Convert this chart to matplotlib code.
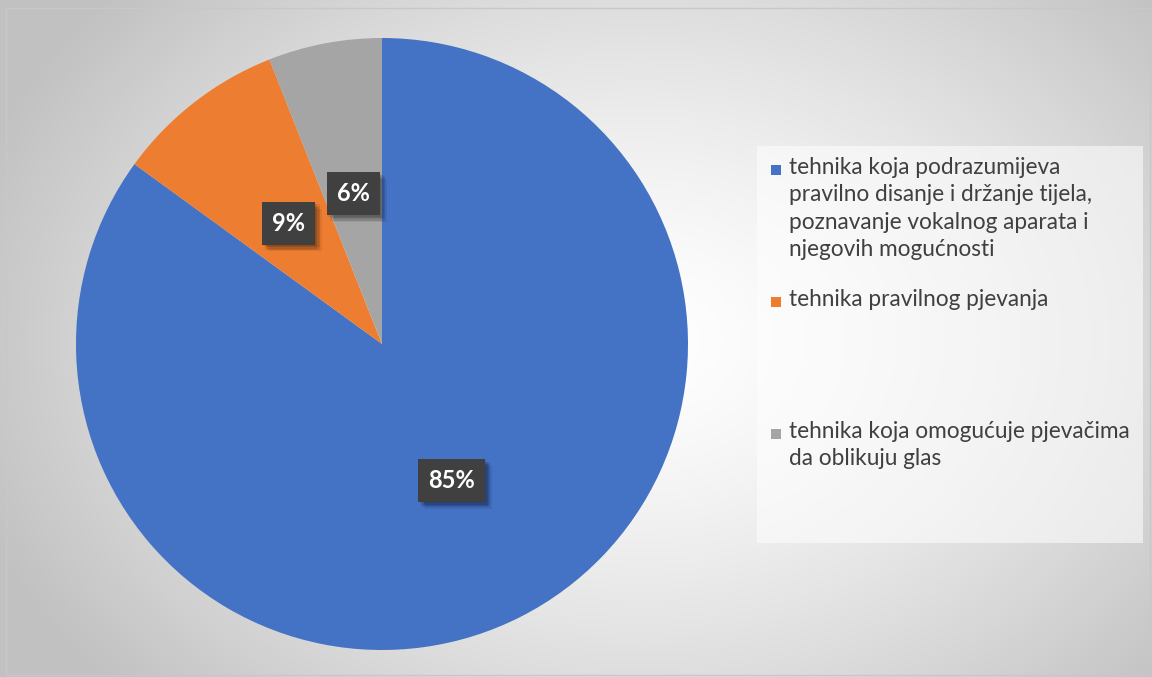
import numpy as np
import matplotlib
matplotlib.use("Agg")
from matplotlib import pyplot as plt
from matplotlib import patheffects
from matplotlib.patches import Rectangle

plt.rcParams['font.family'] = ['Lato', 'DejaVu Sans']

# podaci
kategorije = [
    "tehnika koja podrazumijeva\npravilno disanje i držanje tijela,\npoznavanje vokalnog aparata i\nnjegovih mogućnosti",
    "tehnika pravilnog pjevanja",
    "tehnika koja omogućuje pjevačima\nda oblikuju glas",
]
postotci = [85, 9, 6]
boje = ["#4472C4", "#ED7D31", "#A5A5A5"]

fig = plt.figure(figsize=(11.52, 6.77), dpi=100)

# pozadina - radijalni gradijent
bg = fig.add_axes([0, 0, 1, 1], zorder=0)
yy, xx = np.mgrid[0:677, 0:1152]
d = np.sqrt(((xx - 640) / 700.0) ** 2 + ((yy - 340) / 520.0) ** 2)
d = np.clip(d, 0, 1)
val = 1.0 - 0.24 * d ** 1.4
img = np.dstack([val, val, val])
bg.imshow(img, extent=[0, 1, 0, 1], aspect='auto', origin='upper')
bg.set_axis_off()
bg.add_patch(Rectangle((6 / 1152, 2 / 677), 1144 / 1152, 667 / 677,
                       transform=bg.transAxes, fill=False, ec="#c8c8c8", lw=1))

# pita
ax = fig.add_axes([(382 - 306) / 1152, (677 - 344 - 306) / 677, 612 / 1152, 612 / 677], zorder=1)
ax.set_facecolor("none")
wedges, texts = ax.pie(postotci, colors=boje, startangle=90, counterclock=False,
                       wedgeprops=dict(linewidth=0))
ax.set_xlim(-1, 1)
ax.set_ylim(-1, 1)
ax.set_aspect('equal')

# mekana sjena - nekoliko slojeva
sjene = [patheffects.SimplePatchShadow(offset=(dx, -dy), shadow_rgbFace="black", alpha=0.07)
         for dx, dy in [(1, 1), (2, 2), (3, 3), (4, 4), (5, 5), (2, 4), (4, 2)]]

for w, p in zip(wedges, postotci):
    th = np.deg2rad((w.theta1 + w.theta2) / 2)
    r = 0.5
    t = ax.text(r * np.cos(th), r * np.sin(th), f"{p}%", ha="center", va="center",
                color="white", fontsize=17, fontweight="bold",
                bbox=dict(boxstyle="square,pad=0.42", fc="#404040", ec="none"))
    t.get_bbox_patch().set_path_effects(sjene + [patheffects.Normal()])

# legenda
lax = fig.add_axes([757 / 1152, (677 - 543) / 677, 386 / 1152, 397 / 677], zorder=2)
lax.set_xlim(0, 386)
lax.set_ylim(397, 0)
lax.add_patch(Rectangle((0, 0), 386, 397, fc="white", alpha=0.55, ec="none"))
lax.set_axis_off()
poz_y = [24, 156, 288]
for k, c, y0 in zip(kategorije, boje, poz_y):
    lax.add_patch(Rectangle((14, y0 - 5), 10, 10, fc=c, ec="none"))
    lax.text(32, y0 - 13, k, ha="left", va="top", fontsize=16.3, color="#404040",
             linespacing=1.38)

fig.savefig("out.png", dpi=100)
